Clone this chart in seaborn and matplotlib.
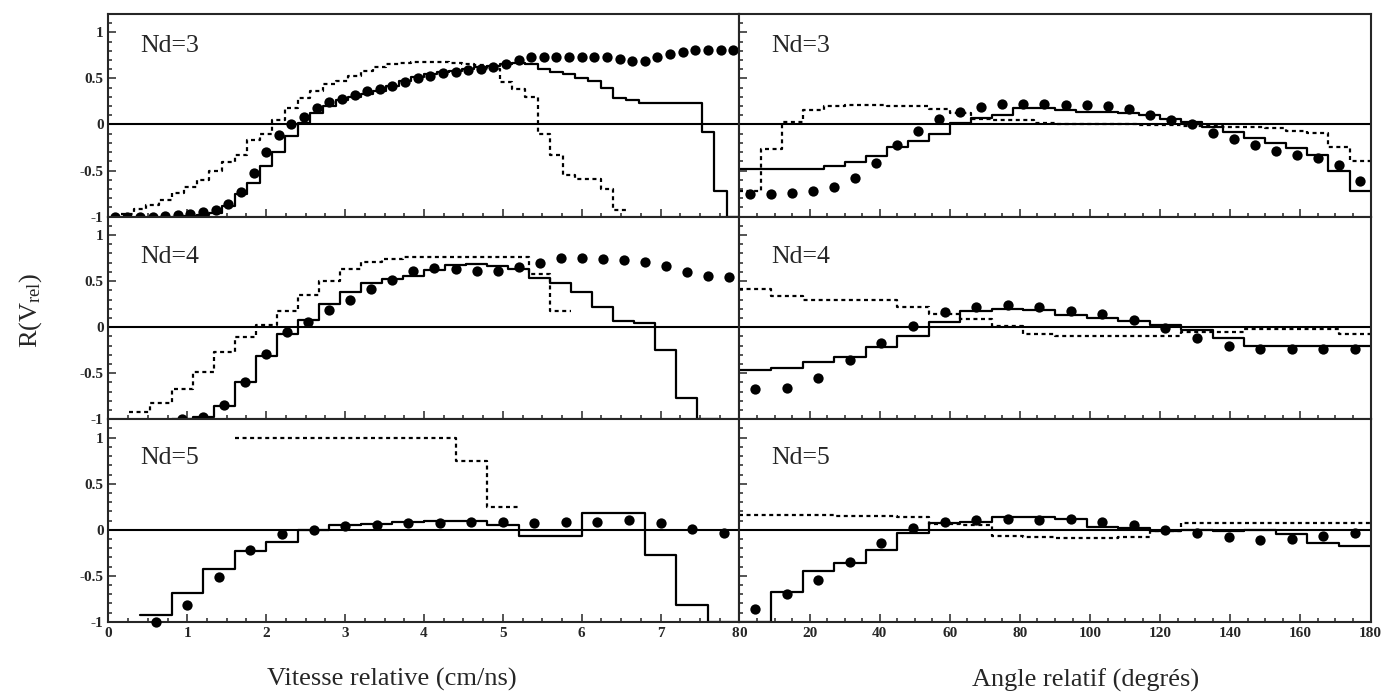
import numpy as np
import pandas as pd
import seaborn as sns
import matplotlib.pyplot as plt
from matplotlib.ticker import MultipleLocator

nan = np.nan

# --- vitesse relative (cm/ns), axe 0-8, classes de largeur 8/nbins
vit_max = 8.0
nd3_vit_nbins = 50
nd4_vit_nbins = 30
nd5_vit_nbins = 20

nd3_vit_dots = [-1.0, -1.0, -1.0, -1.0, -0.99, -0.98, -0.97, -0.95, -0.93,
                -0.86, -0.73, -0.53, -0.30, -0.11, 0.0, 0.08, 0.18, 0.24,
                0.28, 0.32, 0.36, 0.39, 0.42, 0.46, 0.50, 0.53, 0.56,
                0.57, 0.59, 0.60, 0.62, 0.66, 0.70, 0.73, 0.73, 0.73,
                0.73, 0.73, 0.73, 0.73, 0.71, 0.69, 0.69, 0.73, 0.77,
                0.79, 0.81, 0.81, 0.81, 0.81]
nd3_vit_solid = [nan, nan, nan, nan, nan,
                 -1.0, -0.99, -0.98, -0.96, -0.88, -0.75, -0.63, -0.45, -0.30, -0.13,
                 0.02, 0.12, 0.20, 0.27, 0.30, 0.33, 0.36, 0.42, 0.47, 0.52,
                 0.55, 0.57, 0.58, 0.60, 0.62, 0.64, 0.66, 0.67, 0.66, 0.60,
                 0.57, 0.55, 0.50, 0.47, 0.40, 0.29, 0.27, 0.23, 0.23, 0.23,
                 0.23, 0.23, -0.08, -0.72, -1.0]
nd3_vit_dotted = [nan,
                  -0.97, -0.92, -0.87, -0.82, -0.74, -0.68, -0.60, -0.50, -0.41, -0.33,
                  -0.17, -0.10, 0.05, 0.18, 0.29, 0.36, 0.44, 0.47, 0.53, 0.58,
                  0.62, 0.66, 0.67, 0.68, 0.68, 0.68, 0.67, 0.66, 0.65, 0.60,
                  0.46, 0.38, 0.30, -0.10, -0.33, -0.55, -0.59, -0.59, -0.70, -0.93,
                  nan, nan, nan, nan, nan, nan, nan, nan, nan]

nd4_vit_dots = [nan, nan, nan, -1.0, -0.97, -0.85, -0.60, -0.29, -0.05, 0.06,
                0.19, 0.30, 0.41, 0.51, 0.61, 0.64, 0.63, 0.61, 0.61, 0.65,
                0.70, 0.75, 0.75, 0.74, 0.73, 0.71, 0.66, 0.60, 0.56, 0.54]
nd4_vit_solid = [nan, nan, nan, -1.0, -0.97, -0.86, -0.60, -0.31, -0.07, 0.08,
                 0.25, 0.38, 0.48, 0.52, 0.55, 0.62, 0.67, 0.69, 0.66, 0.63,
                 0.53, 0.48, 0.38, 0.22, 0.07, 0.04, -0.25, -0.77, -1.0, nan]
nd4_vit_dotted = [nan, -0.92, -0.82, -0.67, -0.49, -0.27, -0.11, 0.02, 0.17, 0.35,
                  0.50, 0.63, 0.71, 0.74, 0.76, 0.76, 0.76, 0.76, 0.76, 0.76,
                  0.58, 0.18, nan, nan, nan, nan, nan, nan, nan, nan]

nd5_vit_dots = [nan, -1.0, -0.82, -0.51, -0.22, -0.05, 0.0, 0.04, 0.05, 0.07,
                0.07, 0.08, 0.09, 0.07, 0.08, 0.09, 0.11, 0.07, 0.01, -0.03]
nd5_vit_solid = [nan, -0.93, -0.69, -0.43, -0.23, -0.13, 0.0, 0.05, 0.06, 0.08,
                 0.10, 0.10, 0.05, -0.07, -0.07, 0.18, 0.18, -0.27, -0.82, -1.0]
nd5_vit_dotted = [nan, nan, nan, nan, 1.0, 1.0, 1.0, 1.0, 1.0, 1.0,
                  1.0, 0.75, 0.25, nan, nan, nan, nan, nan, nan, nan]

# --- angle relatif (degres), axe 0-180
ang_max = 180.0
nd3_ang_nbins = 30
nd4_ang_nbins = 20
nd5_ang_nbins = 20

nd3_ang_dots = [-0.75, -0.75, -0.74, -0.72, -0.68, -0.58, -0.42, -0.22, -0.07, 0.06,
                0.14, 0.19, 0.22, 0.22, 0.22, 0.21, 0.21, 0.20, 0.17, 0.10,
                0.05, 0.0, -0.09, -0.16, -0.22, -0.29, -0.33, -0.36, -0.44, -0.61]
nd3_ang_solid = [-0.48, -0.48, -0.48, -0.48, -0.45, -0.41, -0.34, -0.24, -0.18, -0.10,
                 0.02, 0.07, 0.10, 0.18, 0.18, 0.16, 0.14, 0.14, 0.13, 0.10,
                 0.06, 0.03, -0.03, -0.08, -0.15, -0.20, -0.25, -0.33, -0.50, -0.72]
nd3_ang_dotted = [-0.72, -0.27, 0.03, 0.16, 0.20, 0.21, 0.21, 0.20, 0.20, 0.17,
                  0.12, 0.06, 0.05, 0.05, 0.02, 0.01, 0.0, 0.0, 0.0, -0.01,
                  -0.01, -0.02, -0.02, -0.03, -0.03, -0.04, -0.07, -0.09, -0.24, -0.40]

nd4_ang_dots = [-0.67, -0.66, -0.55, -0.36, -0.17, 0.01, 0.16, 0.22, 0.24, 0.22,
                0.18, 0.14, 0.08, -0.01, -0.12, -0.20, -0.24, -0.24, -0.24, -0.24]
nd4_ang_solid = [-0.46, -0.44, -0.38, -0.32, -0.22, -0.10, 0.06, 0.17, 0.20, 0.19,
                 0.13, 0.10, 0.07, 0.02, -0.03, -0.12, -0.20, -0.20, -0.20, -0.20]
nd4_ang_dotted = [0.41, 0.34, 0.29, 0.29, 0.29, 0.22, 0.14, 0.09, 0.01, -0.07,
                  -0.10, -0.10, -0.10, -0.10, -0.05, -0.05, -0.02, -0.02, -0.02, -0.07]

nd5_ang_dots = [-0.86, -0.70, -0.54, -0.35, -0.14, 0.02, 0.09, 0.11, 0.12, 0.11,
                0.12, 0.09, 0.05, 0.0, -0.04, -0.08, -0.11, -0.10, -0.07, -0.04]
nd5_ang_solid = [-1.0, -0.68, -0.45, -0.36, -0.22, -0.03, 0.07, 0.09, 0.14, 0.14,
                 0.12, 0.03, 0.02, -0.01, 0.0, -0.01, 0.0, -0.05, -0.14, -0.18]
nd5_ang_dotted = [0.16, 0.16, 0.16, 0.15, 0.15, 0.14, 0.06, 0.05, -0.07, -0.08,
                  -0.09, -0.09, -0.08, -0.01, 0.07, 0.07, 0.07, 0.07, 0.07, 0.07]

panel_labels = ["Nd=3", "Nd=4", "Nd=5"]
ytick_vals = [-1, -0.5, 0, 0.5, 1]
ytick_txt = ["-1", "-0.5", "0", "0.5", "1"]
vit_ticks = [0, 1, 2, 3, 4, 5, 6, 7, 8]
ang_ticks = [0, 20, 40, 60, 80, 100, 120, 140, 160, 180]


sns.set_style("ticks")
plt.rcParams["font.family"] = ["Liberation Serif", "DejaVu Serif"]
plt.rcParams["mathtext.fontset"] = "custom"
plt.rcParams["mathtext.rm"] = "Liberation Serif"
plt.rcParams["mathtext.it"] = "Liberation Serif:italic"


def histo(ax, edges, vals, ls):
    # trace en escalier, une unite par bloc de classes remplies
    vals = np.asarray(vals, float)
    ok = ~np.isnan(vals)
    seg = np.cumsum(np.r_[True, ok[1:] != ok[:-1]])
    parts = []
    for s in np.unique(seg[ok]):
        idx = np.where(seg == s)[0]
        xs = edges[idx[0]:idx[-1] + 2]
        ys = np.r_[vals[idx], vals[idx[-1]]]
        parts.append(pd.DataFrame({"x": xs, "y": ys, "seg": s}))
    d = pd.concat(parts, ignore_index=True)
    sns.lineplot(data=d, x="x", y="y", units="seg", estimator=None, sort=False,
                 drawstyle="steps-post", color="black", linewidth=1.6,
                 linestyle=ls, ax=ax, legend=False)


def panel(ax, xmax, nbins, dots, solid, dotted):
    edges = np.linspace(0, xmax, nbins + 1)
    centers = (edges[:-1] + edges[1:]) / 2
    ax.axhline(0, color="black", lw=1.5)
    histo(ax, edges, dotted, (0, (1.8, 1.6)))
    histo(ax, edges, solid, "-")
    sns.scatterplot(x=centers, y=dots, color="black", s=55, linewidth=0,
                    ax=ax, legend=False, zorder=5, clip_on=False)


fig, axes = plt.subplots(3, 2, figsize=(13.9, 6.98), dpi=100,
                         sharex="col", sharey=True,
                         gridspec_kw=dict(hspace=0, wspace=0))
fig.subplots_adjust(left=0.078, right=0.986, top=0.980, bottom=0.109)

vit = [(nd3_vit_nbins, nd3_vit_dots, nd3_vit_solid, nd3_vit_dotted),
       (nd4_vit_nbins, nd4_vit_dots, nd4_vit_solid, nd4_vit_dotted),
       (nd5_vit_nbins, nd5_vit_dots, nd5_vit_solid, nd5_vit_dotted)]
ang = [(nd3_ang_nbins, nd3_ang_dots, nd3_ang_solid, nd3_ang_dotted),
       (nd4_ang_nbins, nd4_ang_dots, nd4_ang_solid, nd4_ang_dotted),
       (nd5_ang_nbins, nd5_ang_dots, nd5_ang_solid, nd5_ang_dotted)]
label_y = [0.84, 0.80, 0.81]

for i in range(3):
    panel(axes[i, 0], vit_max, *vit[i])
    panel(axes[i, 1], ang_max, *ang[i])
    for ax in axes[i]:
        ax.text(0.05, label_y[i], panel_labels[i], transform=ax.transAxes,
                fontsize=18.5, va="center", ha="left")

for ax in axes.flat:
    ax.set_ylim(-1, 1.2)
    ax.set_xlabel("")
    ax.set_ylabel("")
    ax.yaxis.set_minor_locator(MultipleLocator(0.1))
    ax.tick_params(which="both", direction="in", width=1.1, labelsize=11,
                   top=False, right=False)
    ax.tick_params(which="major", length=6)
    ax.tick_params(which="minor", length=3)
    for sp in ax.spines.values():
        sp.set_linewidth(1.5)
        sp.set_visible(True)

axes[0, 0].set_yticks(ytick_vals)
axes[0, 0].set_yticklabels(ytick_txt)

axes[0, 0].set_xlim(0, vit_max)
axes[2, 0].set_xticks(vit_ticks)
axes[2, 0].set_xticklabels([str(t) for t in vit_ticks])
axes[2, 0].xaxis.set_minor_locator(MultipleLocator(0.25))
axes[0, 1].set_xlim(0, ang_max)
axes[2, 1].set_xticks(ang_ticks)
axes[2, 1].set_xticklabels([str(t) for t in ang_ticks])
axes[2, 1].xaxis.set_minor_locator(MultipleLocator(5))

for ax in axes.flat:
    for lab in ax.get_xticklabels() + ax.get_yticklabels():
        lab.set_fontweight("bold")
axes[2, 0].get_xticklabels()[-1].set_ha("right")
axes[2, 1].get_xticklabels()[0].set_ha("left")

fig.text(0.282, 0.026, "Vitesse relative (cm/ns)", fontsize=19, ha="center", va="center")
fig.text(0.781, 0.026, "Angle relatif (degrés)", fontsize=19, ha="center", va="center")
fig.text(0.022, 0.556, "R(V$_{\\mathrm{rel}}$)", fontsize=19, rotation=90,
         ha="center", va="center")

plt.savefig("out.png", dpi=100)
